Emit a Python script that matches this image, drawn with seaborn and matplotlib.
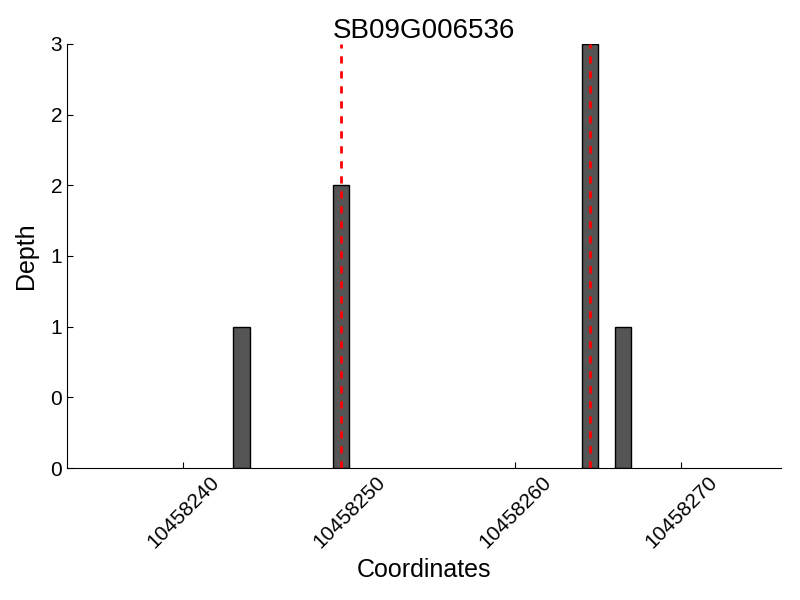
import matplotlib
matplotlib.use("Agg")
import matplotlib.pyplot as plt
import matplotlib.ticker as mticker
import seaborn as sns
import pandas as pd

positions = [10458243.5, 10458249.5, 10458264.5, 10458266.5]
depths = [1, 2, 3, 1]
snp_positions = [10458249.5, 10458264.5]
gene = "SB09G006536"

sns.set_style("ticks")
plt.rcParams['font.family'] = ['Liberation Sans', 'DejaVu Sans']
for k in ['text.color', 'axes.labelcolor', 'xtick.color', 'ytick.color', 'axes.edgecolor']:
    plt.rcParams[k] = 'black'

df = pd.DataFrame({'coord': positions, 'depth': depths})

fig, ax = plt.subplots(figsize=(8, 6), dpi=100)
fig.subplots_adjust(left=0.084, right=0.976, top=0.927, bottom=0.22)

sns.barplot(data=df, x='coord', y='depth', native_scale=True, width=0.49,
            color='#555555', saturation=1, edgecolor='black', linewidth=1, ax=ax)
for p in snp_positions:
    ax.axvline(p, color='red', linestyle='--', linewidth=2, dashes=(2.6, 2.8))

ax.set_xlim(10458233, 10458276)
ax.set_ylim(0, 3)
ax.set_xticks([10458240, 10458250, 10458260, 10458270])
ax.xaxis.set_major_formatter(mticker.FormatStrFormatter('%d'))
ax.set_yticks([0, 0.5, 1, 1.5, 2, 2.5, 3])
ax.yaxis.set_major_formatter(mticker.FormatStrFormatter('%d'))
ax.tick_params(direction='in', length=4, labelsize=15)
plt.setp(ax.get_xticklabels(), rotation=45, ha='center')
sns.despine(ax=ax)

ax.set_xlabel('Coordinates', fontsize=18)
ax.set_ylabel('Depth', fontsize=18, labelpad=9)
ax.set_title(gene, fontsize=20, pad=2)

fig.savefig('out.png', dpi=100)
